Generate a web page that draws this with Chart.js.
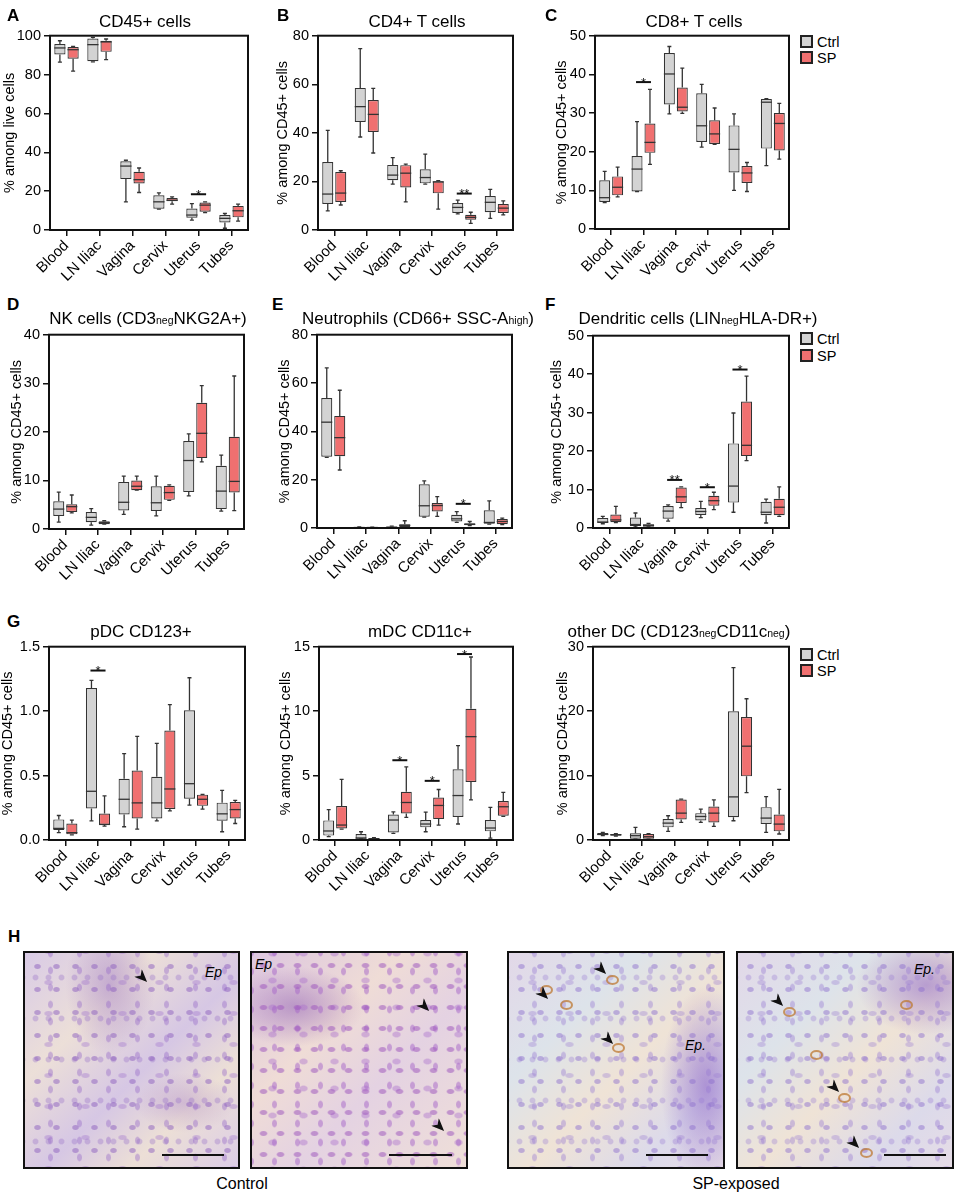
<!DOCTYPE html>
<html><head><meta charset="utf-8">
<script src="https://cdn.jsdelivr.net/npm/chart.js@4.4.0/dist/chart.umd.min.js"></script>
<style>
html,body{margin:0;padding:0;background:#fff}
body{width:957px;height:1195px;position:relative;overflow:hidden;font-family:"Liberation Sans",Arial,sans-serif;color:#000}
.cw{position:absolute}
.title{position:absolute;font-size:17px;line-height:17px;white-space:nowrap;transform:translateX(-50%)}
.sub{font-size:10.5px}
.letter{position:absolute;font-weight:bold;font-size:17px;line-height:17px}
.sw{position:absolute;width:13px;height:13px;box-sizing:border-box;border:2px solid #222}
.lt{position:absolute;font-size:14.5px;line-height:14.5px}
.img{position:absolute;box-sizing:border-box;border:2px solid #111;overflow:hidden}
.ctl{background:
 radial-gradient(ellipse 4px 3px at 50% 50%, rgba(140,95,190,.5) 65%, rgba(140,95,190,0) 100%) 3px 2px/19px 23px,
 radial-gradient(ellipse 3px 4.5px at 50% 50%, rgba(150,105,200,.42) 65%, rgba(150,105,200,0) 100%) 11px 9px/29px 17px,
 radial-gradient(ellipse 5px 3px at 50% 50%, rgba(160,115,205,.38) 65%, rgba(160,115,205,0) 100%) 5px 14px/37px 31px,
 radial-gradient(ellipse 3.5px 3.5px at 50% 50%, rgba(150,110,200,.35) 65%, rgba(150,110,200,0) 100%) 17px 4px/13px 41px,
 radial-gradient(ellipse 45px 70px at 40% 15%, rgba(150,110,195,.45), rgba(150,110,195,0)),
 radial-gradient(ellipse 50px 30px at 75% 70%, rgba(160,120,200,.35), rgba(160,120,200,0)),
 linear-gradient(135deg,#d9cbe6 0%,#ecdfd8 30%,#d6c7e4 55%,#ecdfd6 75%,#dccde6 100%)}
.ctl2{background:
 radial-gradient(ellipse 4.5px 3px at 50% 50%, rgba(160,90,190,.55) 65%, rgba(160,90,190,0) 100%) 3px 2px/17px 21px,
 radial-gradient(ellipse 3px 4.5px at 50% 50%, rgba(165,100,200,.5) 65%, rgba(165,100,200,0) 100%) 11px 9px/23px 19px,
 radial-gradient(ellipse 5px 3.5px at 50% 50%, rgba(170,110,205,.42) 65%, rgba(170,110,205,0) 100%) 5px 14px/31px 27px,
 radial-gradient(ellipse 70px 40px at 20% 25%, rgba(140,90,180,.5), rgba(140,90,180,0)),
 linear-gradient(135deg,#dcc6df 0%,#efdcd6 35%,#e4d2e2 60%,#efdfd8 100%)}
.spx{background:
 radial-gradient(ellipse 4px 3px at 50% 50%, rgba(140,110,205,.48) 65%, rgba(140,110,205,0) 100%) 3px 2px/19px 23px,
 radial-gradient(ellipse 3px 4.5px at 50% 50%, rgba(150,120,210,.4) 65%, rgba(150,120,210,0) 100%) 11px 9px/29px 17px,
 radial-gradient(ellipse 5px 3px at 50% 50%, rgba(155,125,210,.36) 65%, rgba(155,125,210,0) 100%) 5px 14px/37px 31px,
 radial-gradient(ellipse 3.5px 3.5px at 50% 50%, rgba(150,120,210,.33) 65%, rgba(150,120,210,0) 100%) 17px 4px/13px 41px,
 var(--ep),
 linear-gradient(135deg,#e2d8e8 0%,#dde3ea 30%,#efe3d6 55%,#dcdaea 80%,#e6dce6 100%)}
.arr{position:absolute;width:13px;height:11px;background:#111;clip-path:polygon(0 0,100% 50%,0 100%,30% 50%);transform:rotate(45deg)}
.bar{position:absolute;height:2px;background:#111}
.ep{position:absolute;font-style:italic;font-size:14px;line-height:14px}
.brown{position:absolute;width:9px;height:6px;border-radius:50%;border:2px solid rgba(190,120,50,.75)}
.cap{position:absolute;font-size:16px;line-height:16px;transform:translateX(-50%);white-space:nowrap}
</style>
</head><body>
<script>
// ---------- DATA ----------
const categories = ['Blood','LN Iliac','Vagina','Cervix','Uterus','Tubes'];
const groups = ['Ctrl','SP'];
// each entry: [min, q1, median, q3, max]
const cd45Ctrl = [[86.4,90.3,93.7,95.7,97.4],[86.5,86.9,95.4,98.5,99.1],[14.5,26.2,32.9,35.4,35.9],[10.7,10.9,14.5,17.9,19.1],[5.1,6.3,7.7,11.1,13.6],[0.9,3.9,6.0,7.7,8.5]];
const cd45Sp   = [[81.8,88.2,92.8,94.2,94.5],[87.7,91.7,96.8,97.4,98.3],[19.3,23.9,25.9,30.0,31.9],[13.3,14.8,15.3,16.5,17.0],[8.9,9.4,12.8,14.1,14.5],[4.6,6.5,9.9,12.4,13.3]];
const cd45Sig  = [['Uterus',18.4,'*']];

const cd4Ctrl = [[7.9,10.7,14.8,28.0,41.0],[38.3,44.5,50.8,58.5,74.7],[18.9,20.5,22.6,26.8,29.8],[18.9,19.2,21.6,25.0,31.2],[6.6,7.0,9.3,11.1,12.3],[4.8,7.3,11.4,14.0,16.7]];
const cd4Sp   = [[10.3,11.5,15.2,23.9,24.4],[31.7,40.4,47.6,53.5,58.3],[11.6,17.5,23.4,26.7,27.1],[8.6,15.1,19.8,20.1,20.3],[2.7,4.2,5.2,6.3,7.3],[6.2,7.0,9.0,10.7,12.0]];
const cd4Sig  = [['Uterus',15,'**']];

const cd8Ctrl = [[6.8,7.0,8.1,12.6,14.9],[9.7,9.7,15.5,18.9,27.8],[29.8,32.2,40.1,45.5,47.2],[21.2,22.5,26.7,35.1,37.4],[10.0,14.6,20.6,26.8,29.8],[16.4,20.8,32.8,33.6,33.7]];
const cd8Sp   = [[8.3,8.7,10.8,13.6,16.0],[16.7,19.7,22.4,27.3,36.1],[29.9,30.4,31.5,36.6,41.6],[21.9,22.0,24.6,28.1,31.3],[9.7,11.9,14.5,16.3,17.2],[18.1,20.3,27.3,30.0,32.5]];
const cd8Sig  = [['LN Iliac',38,'*']];

const nkCtrl = [[1.4,2.7,4.1,5.7,7.6],[0.8,1.4,2.4,3.5,4.2],[3.0,3.8,5.5,9.7,10.9],[2.7,3.7,5.4,8.8,10.9],[6.8,7.6,14.1,18.1,19.6],[3.7,4.1,7.8,13.0,15.2]];
const nkSp   = [[3.3,3.5,4.6,5.1,7.0],[1.0,1.0,1.3,1.6,1.7],[8.0,8.0,8.8,10.0,10.9],[5.9,6.0,7.5,8.9,9.1],[13.8,14.6,19.7,26.0,29.5],[3.8,7.5,9.8,19.0,31.5]];
const nkSig  = [];

const neuCtrl = [[29.2,29.5,43.8,53.8,66.3],[0.0,0.1,0.2,0.3,0.5],[0.1,0.2,0.3,0.6,0.8],[4.5,4.7,9.2,18.1,19.5],[2.3,2.7,3.8,5.5,6.8],[1.6,1.8,2.3,7.3,11.2]];
const neuSp   = [[24.0,29.7,37.4,46.4,57.0],[0.0,0.1,0.2,0.3,0.4],[0.1,0.4,1.1,1.6,3.0],[4.8,6.8,9.3,10.3,13.0],[1.0,1.1,1.5,2.0,2.7],[1.4,1.6,2.7,3.7,4.1]];
const neuSig  = [['Uterus',10,'*']];

const dcCtrl = [[1.1,1.3,1.55,2.6,3.0],[0.3,0.5,0.9,2.7,3.9],[1.8,2.4,4.4,5.7,6.0],[2.7,3.4,4.3,5.2,6.9],[4.1,6.6,10.9,22.0,29.9],[1.3,3.3,4.1,6.8,7.5]];
const dcSp   = [[1.4,1.5,2.1,3.5,5.6],[0.3,0.3,0.7,1.0,1.2],[5.3,6.5,8.1,10.5,10.7],[4.8,5.8,7.1,8.4,9.3],[17.5,18.7,21.5,32.9,39.5],[3.0,3.3,5.4,7.6,10.7]];
const dcSig  = [['Vagina',12.5,'**'],['Cervix',10.6,'*'],['Uterus',41.2,'*']];

const pdcCtrl = [[0.057,0.077,0.09,0.16,0.19],[0.149,0.244,0.378,1.18,1.238],[0.103,0.198,0.316,0.475,0.67],[0.149,0.167,0.288,0.491,0.75],[0.27,0.321,0.437,1.007,1.259],[0.064,0.149,0.203,0.29,0.385]];
const pdcSp   = [[0.039,0.044,0.057,0.128,0.154],[0.108,0.116,0.121,0.206,0.342],[0.085,0.167,0.288,0.539,0.804],[0.226,0.241,0.396,0.85,1.05],[0.239,0.265,0.316,0.352,0.354],[0.128,0.167,0.236,0.295,0.308]];
const pdcSig  = [['LN Iliac',1.315,'*']];

const mdcCtrl = [[0.26,0.34,0.7,1.52,2.35],[0.08,0.1,0.15,0.46,0.64],[0.52,0.59,1.55,1.98,2.19],[0.64,0.98,1.24,1.55,2.16],[1.24,1.78,3.45,5.49,7.32],[0.15,0.67,0.93,1.55,2.53]];
const mdcSp   = [[0.85,0.9,1.16,2.63,4.7],[0.05,0.08,0.1,0.15,0.18],[1.75,2.06,2.91,3.74,5.67],[1.16,1.62,2.68,3.3,3.92],[3.12,4.51,8.02,10.18,14.2],[1.83,1.88,2.58,3.02,3.69]];
const mdcSig  = [['Vagina',6.19,'*'],['Cervix',4.59,'*'],['Uterus',14.43,'*']];

const odcCtrl = [[0.67,0.72,0.87,1.08,1.18],[0.15,0.21,0.67,1.03,1.96],[1.34,1.96,2.62,3.24,3.76],[2.73,3.04,3.65,4.17,4.79],[2.99,3.55,6.69,19.97,26.76],[1.18,2.47,3.4,5.1,6.74]];
const odcSp   = [[0.62,0.67,0.82,0.93,0.98],[0.15,0.21,0.51,0.93,0.98],[2.73,3.19,4.17,6.28,6.33],[2.11,2.73,4.17,5.2,6.23],[7.36,9.88,14.56,19.09,21.92],[0.93,1.34,2.47,3.96,7.87]];
const odcSig  = [];

// y-axis: [max, step, decimals]
const yAxes = {A:[100,20,0],B:[80,20,0],C:[50,10,0],D:[40,10,0],E:[80,20,0],F:[50,10,0],G1:[1.5,0.5,1],G2:[15,5,0],G3:[30,10,0]};
const yTitleLive = '% among live cells';
const yTitleCD45 = '% among CD45+ cells';

// ---------- STYLE / LAYOUT ----------
const FONT = '"Liberation Sans", Arial, sans-serif';
const CTRL_FILL = 'rgb(211,211,211)';
const SP_FILL = 'rgb(240,112,112)';
const EDGE = '#333';

const panels = [
  {key:'A', ctrl:cd45Ctrl, sp:cd45Sp, sig:cd45Sig, yTitle:yTitleLive, frame:[50,34,248,230], yw:49},
  {key:'B', ctrl:cd4Ctrl, sp:cd4Sp, sig:cd4Sig, yTitle:yTitleCD45, frame:[318,34,513,230], yw:44},
  {key:'C', ctrl:cd8Ctrl, sp:cd8Sp, sig:cd8Sig, yTitle:yTitleCD45, frame:[595,34,789,229], yw:42},
  {key:'D', ctrl:nkCtrl, sp:nkSp, sig:nkSig, yTitle:yTitleCD45, frame:[49,333,244,529], yw:41},
  {key:'E', ctrl:neuCtrl, sp:neuSp, sig:neuSig, yTitle:yTitleCD45, frame:[317,333,512,528], yw:41},
  {key:'F', ctrl:dcCtrl, sp:dcSp, sig:dcSig, yTitle:yTitleCD45, frame:[593,334,789,528], yw:45},
  {key:'G1', ctrl:pdcCtrl, sp:pdcSp, sig:pdcSig, yTitle:yTitleCD45, frame:[49,645,245,840], yw:50},
  {key:'G2', ctrl:mdcCtrl, sp:mdcSp, sig:mdcSig, yTitle:yTitleCD45, frame:[319,645,513,840], yw:42},
  {key:'G3', ctrl:odcCtrl, sp:odcSp, sig:odcSig, yTitle:yTitleCD45, frame:[593,645,789,840], yw:39}
];

const boxPlugin = {
  id:'boxWhisker',
  beforeDatasetsDraw(chart){
    const ctx = chart.ctx, y = chart.scales.y;
    ctx.save();
    ctx.strokeStyle = EDGE; ctx.lineWidth = 1.3;
    chart.data.datasets.forEach((ds,d)=>{
      chart.getDatasetMeta(d).data.forEach((el,i)=>{
        const s = ds.stats[i];
        const cap = el.width*0.36;
        const pMin=y.getPixelForValue(s[0]), pQ1=y.getPixelForValue(s[1]), pQ3=y.getPixelForValue(s[3]), pMax=y.getPixelForValue(s[4]);
        ctx.beginPath();
        ctx.moveTo(el.x,pQ1); ctx.lineTo(el.x,pMin);
        ctx.moveTo(el.x-cap/2,pMin); ctx.lineTo(el.x+cap/2,pMin);
        ctx.moveTo(el.x,pQ3); ctx.lineTo(el.x,pMax);
        ctx.moveTo(el.x-cap/2,pMax); ctx.lineTo(el.x+cap/2,pMax);
        ctx.stroke();
      });
    });
    ctx.restore();
  },
  afterDatasetsDraw(chart, args, opts){
    const ctx = chart.ctx, y = chart.scales.y;
    ctx.save();
    ctx.strokeStyle = EDGE; ctx.lineWidth = 1.3;
    chart.data.datasets.forEach((ds,d)=>{
      chart.getDatasetMeta(d).data.forEach((el,i)=>{
        const pm = y.getPixelForValue(ds.stats[i][2]);
        ctx.beginPath(); ctx.moveTo(el.x-el.width/2,pm); ctx.lineTo(el.x+el.width/2,pm); ctx.stroke();
      });
    });
    const m0 = chart.getDatasetMeta(0).data, m1 = chart.getDatasetMeta(1).data;
    ctx.strokeStyle = '#111'; ctx.lineWidth = 2; ctx.fillStyle='#111';
    ctx.font = '13px ' + FONT; ctx.textAlign='center'; ctx.textBaseline='alphabetic';
    (opts.sig||[]).forEach(([cat,val,lab])=>{
      const i = chart.data.labels.indexOf(cat);
      const x1 = m0[i].x - 1, x2 = m1[i].x + 1, py = y.getPixelForValue(val);
      ctx.beginPath(); ctx.moveTo(x1,py); ctx.lineTo(x2,py); ctx.stroke();
      ctx.fillText(lab,(x1+x2)/2,py+4.5);
    });
    ctx.restore();
  },
  afterDraw(chart){
    const ctx = chart.ctx, a = chart.chartArea;
    ctx.save(); ctx.strokeStyle='#111'; ctx.lineWidth=2;
    ctx.strokeRect(a.left,a.top,a.right-a.left,a.bottom-a.top);
    ctx.restore();
  }
};

const padT = 10, padR = 10, xh = 62;
panels.forEach(p=>{
  const [L,T,R,B] = p.frame;
  const [yMax, step, dec] = yAxes[p.key];
  const wrap = document.createElement('div');
  wrap.className = 'cw';
  wrap.style.left = (L-p.yw)+'px';
  wrap.style.top = (T-padT)+'px';
  wrap.style.width = (R-L+p.yw+padR)+'px';
  wrap.style.height = (B-T+padT+xh)+'px';
  const cv = document.createElement('canvas');
  wrap.appendChild(cv); document.body.appendChild(wrap);
  const gridOpts = {display:true, offset:false, drawOnChartArea:false, drawTicks:true, tickLength:6, color:'#111', lineWidth:1.5};
  new Chart(cv,{
    type:'bar',
    data:{labels:categories, datasets:[
      {label:groups[0], data:p.ctrl.map(s=>[s[1],s[3]]), stats:p.ctrl, backgroundColor:CTRL_FILL, borderColor:EDGE, borderWidth:1.2, borderSkipped:false, categoryPercentage:0.8, barPercentage:0.85},
      {label:groups[1], data:p.sp.map(s=>[s[1],s[3]]), stats:p.sp, backgroundColor:SP_FILL, borderColor:EDGE, borderWidth:1.2, borderSkipped:false, categoryPercentage:0.8, barPercentage:0.85}
    ]},
    options:{
      responsive:true, maintainAspectRatio:false, animation:false,
      layout:{padding:{top:padT,right:padR,left:0,bottom:0}},
      plugins:{legend:{display:false}, tooltip:{enabled:false}, boxWhisker:{sig:p.sig}},
      scales:{
        x:{offset:true, grid:gridOpts, border:{display:false},
           ticks:{autoSkip:false, maxRotation:45, minRotation:45, color:'#000', font:{family:FONT,size:15}, padding:1},
           afterFit:s=>{s.height=xh;}},
        y:{min:0, max:yMax, grid:gridOpts, border:{display:false},
           ticks:{stepSize:step, color:'#000', font:{family:FONT,size:14.5}, padding:3, callback:v=>dec?Number(v).toFixed(dec):v},
           title:{display:true, text:p.yTitle, color:'#000', font:{family:FONT,size:14.5}, padding:{top:0,bottom:2}},
           afterFit:s=>{s.width=p.yw;}}
      }
    },
    plugins:[boxPlugin]
  });
});
</script>

<!-- panel letters -->
<div class="letter" style="left:7px;top:7px">A</div>
<div class="letter" style="left:277px;top:7px">B</div>
<div class="letter" style="left:545px;top:7px">C</div>
<div class="letter" style="left:7px;top:296px">D</div>
<div class="letter" style="left:272px;top:296px">E</div>
<div class="letter" style="left:545px;top:296px">F</div>
<div class="letter" style="left:7px;top:613px">G</div>
<div class="letter" style="left:8px;top:928px">H</div>

<!-- titles -->
<div class="title" style="left:145px;top:12.6px">CD45+ cells</div>
<div class="title" style="left:417px;top:12.6px">CD4+ T cells</div>
<div class="title" style="left:694px;top:12.6px">CD8+ T cells</div>
<div class="title" style="left:148px;top:309.6px">NK cells (CD3<span class="sub">neg</span>NKG2A+)</div>
<div class="title" style="left:418px;top:309.6px">Neutrophils (CD66+ SSC-A<span class="sub">high</span>)</div>
<div class="title" style="left:698px;top:309.6px">Dendritic cells (LIN<span class="sub">neg</span>HLA-DR+)</div>
<div class="title" style="left:141px;top:622.6px">pDC CD123+</div>
<div class="title" style="left:420px;top:622.6px">mDC CD11c+</div>
<div class="title" style="left:679px;top:622.6px">other DC (CD123<span class="sub">neg</span>CD11c<span class="sub">neg</span>)</div>

<!-- legends -->
<div class="sw" style="left:800px;top:35px;background:rgb(211,211,211)"></div><div class="lt" style="left:817px;top:34.7px">Ctrl</div>
<div class="sw" style="left:800px;top:51px;background:rgb(240,112,112)"></div><div class="lt" style="left:817px;top:50.7px">SP</div>
<div class="sw" style="left:800px;top:332px;background:rgb(211,211,211)"></div><div class="lt" style="left:817px;top:332px">Ctrl</div>
<div class="sw" style="left:800px;top:349px;background:rgb(240,112,112)"></div><div class="lt" style="left:817px;top:349px">SP</div>
<div class="sw" style="left:800px;top:648px;background:rgb(211,211,211)"></div><div class="lt" style="left:817px;top:647.5px">Ctrl</div>
<div class="sw" style="left:800px;top:664px;background:rgb(240,112,112)"></div><div class="lt" style="left:817px;top:663.5px">SP</div>

<!-- panel H: micrographs -->
<div class="img ctl" style="left:23px;top:951px;width:217px;height:218px"></div>
<div class="img ctl2" style="left:250px;top:951px;width:218px;height:218px"></div>
<div class="img spx" style="left:507px;top:951px;width:218px;height:218px;--ep:radial-gradient(ellipse 45px 100px at 92% 62%, rgba(140,100,200,.6), rgba(140,100,200,0))"></div>
<div class="img spx" style="left:736px;top:951px;width:218px;height:218px;--ep:radial-gradient(ellipse 70px 50px at 88% 15%, rgba(140,100,200,.55), rgba(140,100,200,0))"></div>

<div class="brown" style="left:540px;top:985px"></div>
<div class="brown" style="left:560px;top:1000px"></div>
<div class="brown" style="left:606px;top:975px"></div>
<div class="brown" style="left:612px;top:1043px"></div>
<div class="brown" style="left:783px;top:1007px"></div>
<div class="brown" style="left:838px;top:1093px"></div>
<div class="brown" style="left:860px;top:1148px"></div>
<div class="brown" style="left:810px;top:1050px"></div>
<div class="brown" style="left:900px;top:1000px"></div>

<div class="arr" style="left:136px;top:972px"></div>
<div class="arr" style="left:418px;top:1001px"></div>
<div class="arr" style="left:433px;top:1121px"></div>
<div class="arr" style="left:595px;top:964px"></div>
<div class="arr" style="left:537px;top:989px"></div>
<div class="arr" style="left:602px;top:1034px"></div>
<div class="arr" style="left:772px;top:996px"></div>
<div class="arr" style="left:828px;top:1082px"></div>
<div class="arr" style="left:848px;top:1138px"></div>

<div class="ep" style="left:205px;top:965px">Ep</div>
<div class="ep" style="left:255px;top:957px">Ep</div>
<div class="ep" style="left:685px;top:1038px">Ep.</div>
<div class="ep" style="left:914px;top:962px">Ep.</div>

<div class="bar" style="left:162px;top:1154px;width:62px"></div>
<div class="bar" style="left:389px;top:1154px;width:63px"></div>
<div class="bar" style="left:646px;top:1154px;width:62px"></div>
<div class="bar" style="left:884px;top:1154px;width:62px"></div>

<div class="cap" style="left:242px;top:1175.5px">Control</div>
<div class="cap" style="left:736px;top:1175.5px">SP-exposed</div>
</body></html>
